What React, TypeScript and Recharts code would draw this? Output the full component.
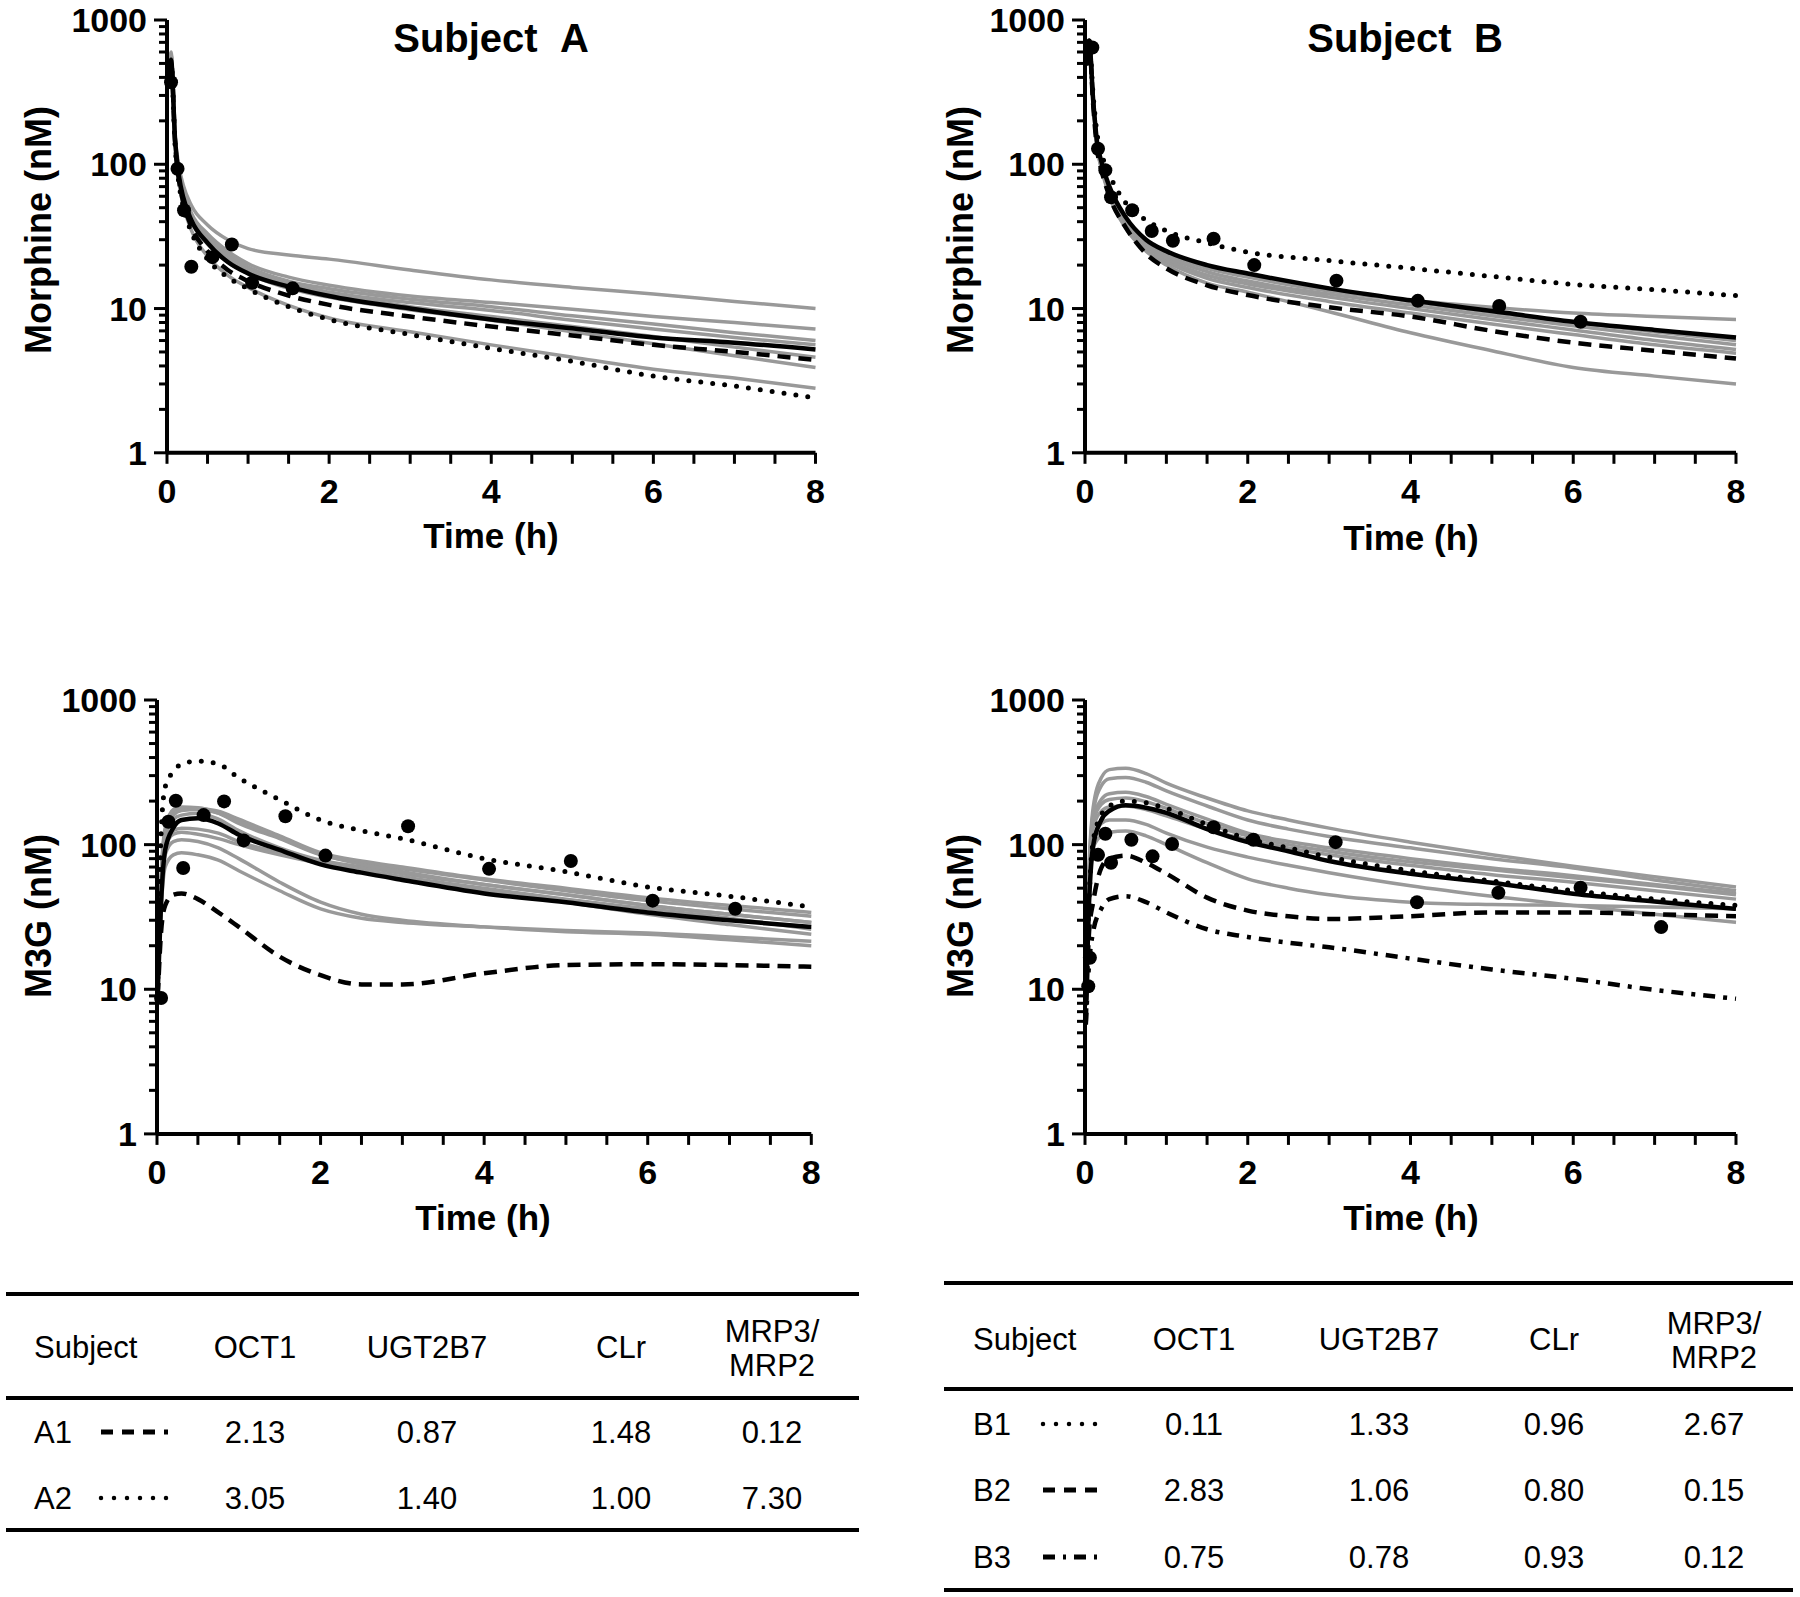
import React from 'react';
import { ComposedChart, Line, Scatter, XAxis, YAxis } from 'recharts';

// time grids (h)
const tMorph = [0.02, 0.05, 0.1, 0.15, 0.2, 0.3, 0.5, 0.75, 1, 1.5, 2, 3, 4, 5, 6, 7, 8];
const tM3G = [0.01, 0.05, 0.1, 0.2, 0.3, 0.5, 0.75, 1, 1.5, 2, 2.5, 3, 4, 5, 6, 7, 8];

// Subject A — morphine
const morphA_mean = [430, 530, 146, 81, 59, 41, 28.5, 21, 17.5, 14.2, 12.2, 10, 8.4, 7.3, 6.3, 5.8, 5.2];
const morphA_A1 = [420, 520, 140, 76, 55, 37, 25, 18.5, 15.5, 12.3, 10.6, 8.8, 7.5, 6.5, 5.6, 5.0, 4.4];
const morphA_A2 = [410, 510, 135, 72, 51, 34, 22, 16.5, 13.7, 10.3, 8.4, 6.6, 5.3, 4.3, 3.4, 2.9, 2.4];
const morphA_grey = [
  [450, 600, 160, 95, 72, 52, 38, 30, 26, 23.5, 22, 18.5, 15.8, 14, 12.6, 11.2, 10],
  [440, 580, 155, 88, 66, 46, 33, 25, 20.5, 16.5, 14.5, 12.2, 11, 9.9, 8.8, 8, 7.2],
  [440, 570, 152, 86, 64, 45, 32, 24, 19.5, 15.5, 13.7, 11.6, 10.3, 8.9, 7.8, 6.8, 6.0],
  [430, 560, 150, 84, 62, 43, 30, 23, 19, 15, 13, 11, 9.7, 8.3, 7.2, 6.3, 5.6],
  [430, 550, 148, 82, 60, 42, 29.5, 22, 18.5, 14.5, 12.7, 10.3, 8.8, 7.5, 6.4, 5.4, 4.6],
  [420, 540, 145, 80, 58, 40, 28, 21, 17.5, 13.8, 12, 9.8, 8.3, 6.9, 5.7, 4.7, 3.9],
  [410, 510, 136, 73, 52, 35, 23, 17, 14, 10.5, 8.6, 6.9, 5.6, 4.6, 3.8, 3.3, 2.8],
];
const morphA_obsT = [0.05, 0.13, 0.21, 0.3, 0.56, 0.8, 1.05, 1.55];
const morphA_obsV = [370, 93, 48, 19.5, 22.7, 27.8, 15.1, 13.8];

// Subject B — morphine
const morphB_mean = [500, 720, 280, 140, 105, 70, 43, 30, 25, 20, 17.5, 13.8, 11.4, 9.6, 8.1, 7.1, 6.3];
const morphB_B1 = [500, 720, 300, 160, 120, 85, 54, 41, 34.5, 28.5, 24.6, 21.5, 19, 16.7, 14.7, 13.5, 12.3];
const morphB_B2 = [500, 710, 260, 125, 92, 60, 36.5, 24, 19, 14.5, 12.4, 10.2, 8.8, 7, 5.8, 5.1, 4.5];
const morphB_grey = [
  [500, 720, 280, 138, 103, 68, 42, 29, 24, 19, 16.5, 13.2, 11.4, 10.2, 9.3, 8.8, 8.4],
  [500, 720, 280, 138, 103, 68, 42, 29.5, 24.5, 19.5, 17, 13.5, 11.2, 9.4, 8, 6.9, 6.0],
  [500, 715, 275, 135, 100, 66, 40, 28, 23, 18, 15.5, 12.6, 10.6, 8.9, 7.6, 6.5, 5.6],
  [500, 715, 275, 133, 98, 64, 39, 27, 22, 17, 14.8, 12, 10, 8.4, 7.1, 6.0, 5.2],
  [500, 710, 270, 130, 96, 62, 37, 25.5, 21, 16.2, 14, 11.2, 9.3, 7.8, 6.6, 5.6, 4.9],
  [500, 710, 265, 128, 94, 60, 36, 25, 20, 15, 13, 9.5, 6.8, 5.1, 3.9, 3.4, 3.0],
];
const morphB_obsT = [0.09, 0.16, 0.25, 0.32, 0.58, 0.82, 1.08, 1.58, 2.08, 3.09, 4.09, 5.09, 6.09];
const morphB_obsV = [645, 128, 91, 59, 48, 34.5, 29.5, 30.5, 20, 15.6, 11.3, 10.4, 8.1];

// Subject A — M3G
const m3gA_mean = [10, 40, 92, 131, 148, 152, 140, 117, 92, 73, 64, 57, 46, 40, 34, 30, 27];
const m3gA_A1 = [9, 25, 38, 45, 46, 42, 34, 27, 16.8, 12.5, 10.8, 10.8, 12.9, 14.7, 14.9, 14.7, 14.3];
const m3gA_A2 = [12, 120, 250, 320, 360, 378, 360, 290, 204, 148, 125, 110, 80, 65, 51, 44, 37];
const m3gA_grey = [
  [10, 60, 130, 175, 182, 180, 165, 140, 110, 85, 75, 68, 57, 48, 41, 36, 32],
  [10, 55, 125, 170, 180, 178, 170, 150, 115, 88, 77, 70, 58, 50, 43, 38, 34],
  [10, 50, 110, 150, 160, 165, 150, 125, 95, 78, 70, 63, 53, 45, 38, 33, 29],
  [10, 45, 100, 125, 130, 128, 120, 105, 88, 75, 67, 60, 50, 42, 36, 31, 26],
  [10, 40, 85, 105, 108, 105, 95, 80, 55, 40, 33, 30, 27, 25, 24, 22, 20],
  [10, 35, 70, 85, 88, 85, 78, 66, 48, 36, 31, 29, 27, 25.5, 24.5, 23, 21.5],
  [10, 45, 95, 118, 122, 118, 110, 100, 85, 74, 66, 59, 48, 40, 33, 28, 24],
  [10, 50, 115, 160, 172, 175, 165, 145, 112, 86, 73, 65, 53, 45, 38, 33, 29],
];
const m3gA_obsT = [0.05, 0.14, 0.23, 0.32, 0.57, 0.82, 1.06, 1.57, 2.06, 3.07, 4.06, 5.06, 6.06, 7.07];
const m3gA_obsV = [8.7, 144, 201, 69, 160, 199, 107, 157, 84, 134, 68, 77, 41, 36];

// Subject B — M3G
const m3gB_mean = [8, 40, 98, 148, 171, 187, 180, 166, 128, 104, 90, 77, 63, 54.5, 45.7, 40.5, 36];
const m3gB_B1 = [8, 42, 105, 160, 185, 200, 195, 178, 138, 110, 95, 82, 66, 56, 48, 42, 38];
const m3gB_B2 = [6, 25, 40, 69, 80, 84, 75, 63, 43, 35, 32, 30.6, 32, 34, 34, 33, 32];
const m3gB_B3 = [5.7, 15, 25, 36, 42, 44, 40, 34, 26, 23, 21, 19.5, 16.3, 13.7, 11.8, 9.9, 8.6];
const m3gB_grey = [
  [9, 70, 180, 290, 330, 337, 310, 266, 210, 171, 148, 130, 104, 85, 71, 60, 51],
  [9, 65, 165, 255, 285, 291, 270, 235, 185, 148, 128, 114, 95, 80, 69, 57, 48],
  [9, 60, 150, 205, 225, 230, 215, 190, 150, 120, 105, 95, 80, 69, 61, 53, 46],
  [9, 58, 140, 190, 205, 210, 198, 178, 140, 115, 100, 90, 76, 67, 59, 52, 45],
  [9, 55, 130, 170, 182, 185, 175, 158, 128, 108, 95, 85, 72, 62, 55, 48, 42],
  [9, 50, 110, 140, 148, 148, 138, 120, 96, 82, 72, 64, 52, 44, 38, 33, 29],
  [9, 45, 95, 115, 122, 124, 115, 100, 75, 58, 50, 45, 40, 38.5, 38, 37, 36],
];
const m3gB_obsT = [0.04, 0.06, 0.16, 0.25, 0.32, 0.57, 0.83, 1.07, 1.58, 2.07, 3.08, 4.08, 5.08, 6.09, 7.08];
const m3gB_obsV = [10.5, 16.5, 85, 119, 75, 108, 83, 101, 132, 108, 104, 40, 46.5, 50.4, 26.9];

// axis ticks
const xTicks = [0, 0.5, 1, 1.5, 2, 2.5, 3, 3.5, 4, 4.5, 5, 5.5, 6, 6.5, 7, 7.5, 8];
const xLabels = [0, 2, 4, 6, 8];
const yTicks = [1, 2, 3, 4, 5, 6, 7, 8, 9, 10, 20, 30, 40, 50, 60, 70, 80, 90, 100, 200, 300, 400, 500, 600, 700, 800, 900, 1000];
const yLabels = [1, 10, 100, 1000];

// table contents
const tableHead = ['Subject', 'OCT1', 'UGT2B7', 'CLr'];
const tableA = [
  { id: 'A1', style: 'dashed', vals: ['2.13', '0.87', '1.48', '0.12'] },
  { id: 'A2', style: 'dotted', vals: ['3.05', '1.40', '1.00', '7.30'] },
];
const tableB = [
  { id: 'B1', style: 'dotted', vals: ['0.11', '1.33', '0.96', '2.67'] },
  { id: 'B2', style: 'dashed', vals: ['2.83', '1.06', '0.80', '0.15'] },
  { id: 'B3', style: 'dashdot', vals: ['0.75', '0.78', '0.93', '0.12'] },
];

const FONT = '"Liberation Sans", Arial, Helvetica, sans-serif';

const STYLES: Record<string, any> = {
  mean: { stroke: '#000', strokeWidth: 4.5 },
  dashed: { stroke: '#000', strokeWidth: 4.5, strokeDasharray: '13 8' },
  dotted: { stroke: '#000', strokeWidth: 5, strokeDasharray: '0 12', strokeLinecap: 'round' },
  dashdot: { stroke: '#000', strokeWidth: 4.5, strokeDasharray: '12 8 4 8' },
};

function buildRows(t: number[], series: Record<string, number[]>) {
  return t.map((tt, i) => {
    const row: any = { t: tt };
    Object.keys(series).forEach((k) => { row[k] = series[k][i]; });
    return row;
  });
}

const YTick = (props: any) => {
  const { x, y, payload } = props;
  const v = payload.value;
  const major = yLabels.includes(v);
  return (
    <g>
      <line x1={x} x2={x - (major ? 13 : 8)} y1={y} y2={y} stroke="#000" strokeWidth={3} />
      {major && (
        <text x={x - 20} y={y} textAnchor="end" dominantBaseline="central"
          style={{ fontFamily: FONT }} fontWeight="bold" fontSize={34} fill="#000">{v}</text>
      )}
    </g>
  );
};

const XTick = (props: any) => {
  const { x, y, payload } = props;
  const v = payload.value;
  const major = xLabels.includes(v);
  return (
    <g>
      <line x1={x} x2={x} y1={y} y2={y + 11} stroke="#000" strokeWidth={3} />
      {major && (
        <text x={x} y={y + 38} textAnchor="middle" dominantBaseline="central"
          style={{ fontFamily: FONT }} fontWeight="bold" fontSize={34} fill="#000">{v}</text>
      )}
    </g>
  );
};

interface PanelProps {
  left: number; top: number; w: number; h: number;
  t: number[]; mean: number[]; greys: number[][];
  special: { key: string; values: number[] }[];
  obsT: number[]; obsV: number[];
}

function Panel({ left, top, w, h, t, mean, greys, special, obsT, obsV }: PanelProps) {
  const series: Record<string, number[]> = { mean };
  greys.forEach((g, i) => { series['g' + i] = g; });
  special.forEach((s) => { series[s.key] = s.values; });
  const rows = buildRows(t, series);
  const obs = obsT.map((tt, i) => ({ t: tt, v: obsV[i] }));

  return (
    <div style={{ position: 'absolute', left: left - 120, top: top - 20 }}>
      <ComposedChart width={w + 160} height={h + 140} data={rows}
        margin={{ top: 20, right: 40, bottom: 60, left: 60 }}>
        <XAxis type="number" dataKey="t" domain={[0, 8]} ticks={xTicks} interval={0}
          height={60} tickSize={0} tickMargin={0} tickLine={false}
          axisLine={{ stroke: '#000', strokeWidth: 4 }} tick={(p: any) => <XTick {...p} />} />
        <YAxis type="number" scale="log" domain={[1, 1000]} ticks={yTicks} interval={0}
          width={60} tickSize={0} tickMargin={0} tickLine={false} allowDataOverflow
          axisLine={{ stroke: '#000', strokeWidth: 4 }} tick={(p: any) => <YTick {...p} />} />
        {greys.map((_, i) => (
          <Line key={'g' + i} type="monotone" dataKey={'g' + i} stroke="#999999" strokeWidth={3.5}
            dot={false} activeDot={false} isAnimationActive={false} />
        ))}
        <Line type="monotone" dataKey="mean" {...STYLES.mean} dot={false} activeDot={false} isAnimationActive={false} />
        {special.map((s) => (
          <Line key={s.key} type="monotone" dataKey={s.key} {...STYLES[s.key]}
            dot={false} activeDot={false} isAnimationActive={false} />
        ))}
        <Scatter data={obs} dataKey="v" isAnimationActive={false}
          shape={(p: any) => <circle cx={p.cx} cy={p.cy} r={7} fill="#000" />} />
      </ComposedChart>
    </div>
  );
}

function SampleLine({ x1, x2, y, kind }: { x1: number; x2: number; y: number; kind: string }) {
  const s = kind === 'dashed' ? { strokeDasharray: '12 9', strokeWidth: 5 }
    : kind === 'dotted' ? { strokeDasharray: '0 13', strokeWidth: 4.5, strokeLinecap: 'round' as const }
    : { strokeDasharray: '12 8 3 8', strokeWidth: 5 };
  return <line x1={x1} x2={x2} y1={y} y2={y} stroke="#000" {...s} />;
}

function Table({ x1, x2, yTop, yHead, yBot, headY, rowYs, rows, cols, sampleX }: any) {
  const txt = { style: { fontFamily: FONT }, fontSize: 31, fill: '#000', dominantBaseline: 'central' as const };
  return (
    <g>
      <line x1={x1} x2={x2} y1={yTop} y2={yTop} stroke="#000" strokeWidth={4} />
      <line x1={x1} x2={x2} y1={yHead} y2={yHead} stroke="#000" strokeWidth={4} />
      <line x1={x1} x2={x2} y1={yBot} y2={yBot} stroke="#000" strokeWidth={4} />
      <text x={cols[0]} y={headY} {...txt}>{tableHead[0]}</text>
      {tableHead.slice(1).map((h: string, i: number) => (
        <text key={h} x={cols[i + 1]} y={headY} textAnchor="middle" {...txt}>{h}</text>
      ))}
      <text x={cols[4]} y={headY - 16} textAnchor="middle" {...txt}>MRP3/</text>
      <text x={cols[4]} y={headY + 18} textAnchor="middle" {...txt}>MRP2</text>
      {rows.map((r: any, ri: number) => (
        <g key={r.id}>
          <text x={cols[0]} y={rowYs[ri]} {...txt}>{r.id}</text>
          <SampleLine x1={sampleX[0]} x2={sampleX[1]} y={rowYs[ri]} kind={r.style} />
          {r.vals.map((v: string, vi: number) => (
            <text key={vi} x={cols[vi + 1]} y={rowYs[ri]} textAnchor="middle" {...txt}>{v}</text>
          ))}
        </g>
      ))}
    </g>
  );
}

export default function App() {
  const bold = { style: { fontFamily: FONT }, fontWeight: 'bold' as const, fill: '#000', dominantBaseline: 'central' as const, textAnchor: 'middle' as const };
  return (
    <div style={{ position: 'absolute', left: 0, top: 0, width: 1800, height: 1597, background: '#fff', overflow: 'hidden' }}>
      <style>{'body{margin:0;background:#fff}'}</style>
      <Panel left={166.5} top={19.5} w={648.5} h={432.8} t={tMorph} mean={morphA_mean} greys={morphA_grey}
        special={[{ key: 'dashed', values: morphA_A1 }, { key: 'dotted', values: morphA_A2 }]}
        obsT={morphA_obsT} obsV={morphA_obsV} />
      <Panel left={1085} top={19.5} w={651} h={432.8} t={tMorph} mean={morphB_mean} greys={morphB_grey}
        special={[{ key: 'dashed', values: morphB_B2 }, { key: 'dotted', values: morphB_B1 }]}
        obsT={morphB_obsT} obsV={morphB_obsV} />
      <Panel left={157.3} top={700.3} w={654.3} h={433.9} t={tM3G} mean={m3gA_mean} greys={m3gA_grey}
        special={[{ key: 'dashed', values: m3gA_A1 }, { key: 'dotted', values: m3gA_A2 }]}
        obsT={m3gA_obsT} obsV={m3gA_obsV} />
      <Panel left={1085} top={700.3} w={651} h={433.9} t={tM3G} mean={m3gB_mean} greys={m3gB_grey}
        special={[{ key: 'dashed', values: m3gB_B2 }, { key: 'dotted', values: m3gB_B1 }, { key: 'dashdot', values: m3gB_B3 }]}
        obsT={m3gB_obsT} obsV={m3gB_obsV} />

      <svg width={1800} height={1597} style={{ position: 'absolute', left: 0, top: 0, pointerEvents: 'none' }}>
        <text x={491} y={38} fontSize={40} {...bold}>{'Subject\u00a0\u00a0A'}</text>
        <text x={1405} y={38} fontSize={40} {...bold}>{'Subject\u00a0\u00a0B'}</text>

        <text transform="translate(38,230) rotate(-90)" fontSize={36} {...bold}>Morphine (nM)</text>
        <text transform="translate(960,230) rotate(-90)" fontSize={36} {...bold}>Morphine (nM)</text>
        <text transform="translate(38,916) rotate(-90)" fontSize={36} {...bold}>M3G (nM)</text>
        <text transform="translate(960,916) rotate(-90)" fontSize={36} {...bold}>M3G (nM)</text>

        <text x={491} y={535} fontSize={35} {...bold}>Time (h)</text>
        <text x={1411} y={537} fontSize={35} {...bold}>Time (h)</text>
        <text x={483} y={1217} fontSize={35} {...bold}>Time (h)</text>
        <text x={1411} y={1217} fontSize={35} {...bold}>Time (h)</text>

        <Table x1={6} x2={859} yTop={1294} yHead={1398} yBot={1530} headY={1347}
          rowYs={[1432, 1498]} rows={tableA} cols={[34, 255, 427, 621, 772]} sampleX={[101, 168]} />
        <Table x1={944} x2={1793} yTop={1283} yHead={1389} yBot={1590} headY={1339}
          rowYs={[1424, 1490, 1557]} rows={tableB} cols={[973, 1194, 1379, 1554, 1714]} sampleX={[1043, 1100]} />
      </svg>
    </div>
  );
}
